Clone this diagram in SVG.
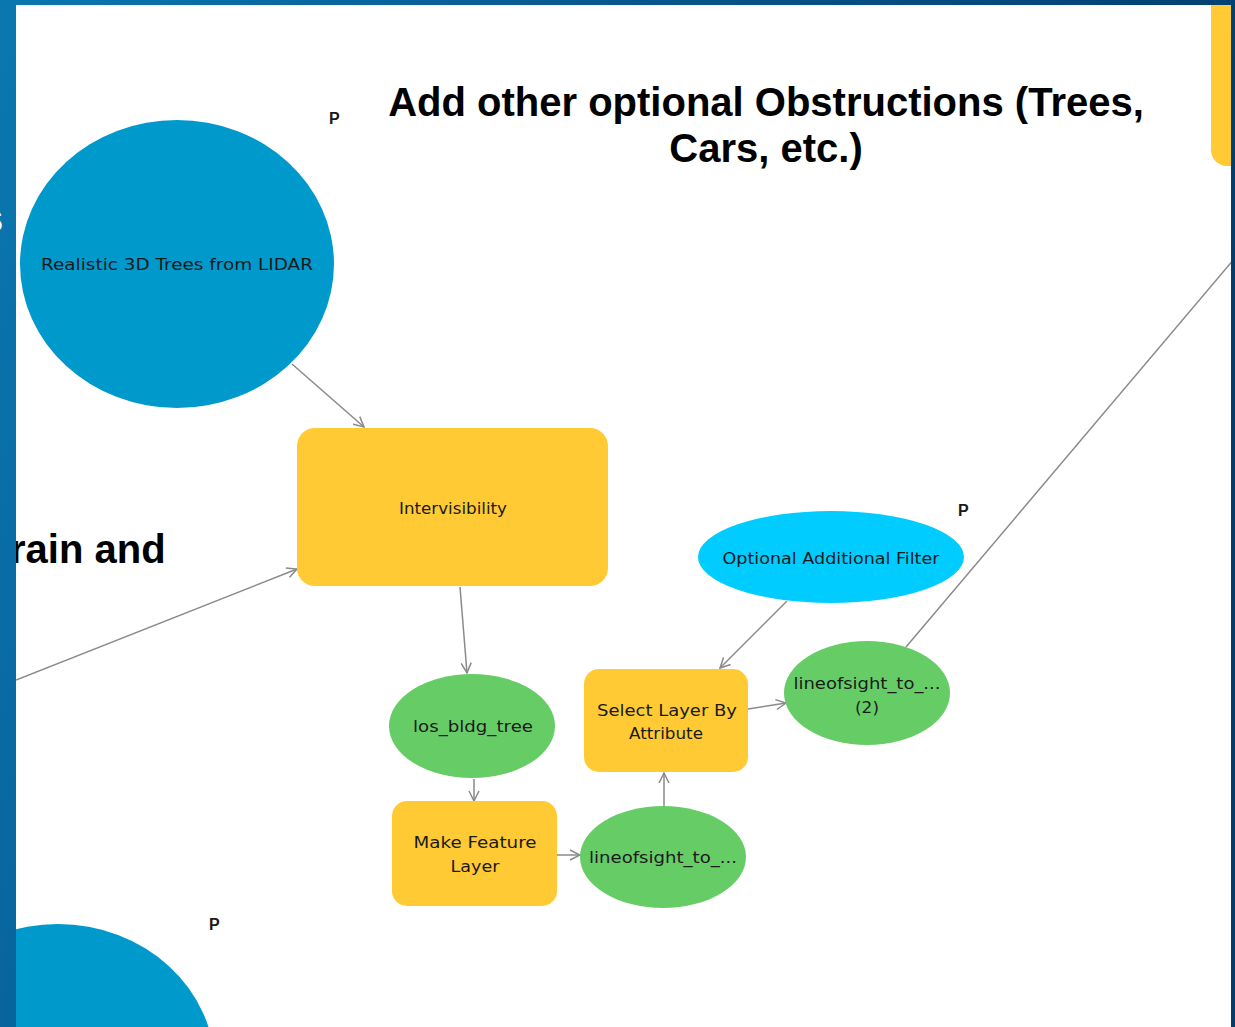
<svg xmlns="http://www.w3.org/2000/svg" width="1235" height="1027" viewBox="0 0 1235 1027">
  <defs>
    <linearGradient id="frameGrad" x1="0" y1="0" x2="1" y2="0.3">
      <stop offset="0" stop-color="#0a78b0"/>
      <stop offset="0.5" stop-color="#07558c"/>
      <stop offset="1" stop-color="#023d6e"/>
    </linearGradient>
    <clipPath id="panelClip">
      <rect x="16" y="5" width="1215" height="1022"/>
    </clipPath>
    <marker id="arrow" viewBox="0 0 12 12" refX="11" refY="6" markerWidth="12" markerHeight="12" markerUnits="userSpaceOnUse" orient="auto">
      <path d="M1,1 L11,6 L1,11" fill="none" stroke="#8a8a8a" stroke-width="1.5"/>
    </marker>
    <style>
      .tool { fill: #ffca33; }
      .data { fill: #66cc66; }
      .input { fill: #0099cc; }
      .filter { fill: #00ccff; }
      .lbl { font-family: "DejaVu Sans", Verdana, sans-serif; font-size: 16.5px; fill: #1a1a1a; text-anchor: middle; }
      .head { font-family: "Liberation Sans", Arial, sans-serif; font-weight: bold; font-size: 40px; fill: #000; }
      .p { font-family: "Liberation Sans", Arial, sans-serif; font-weight: bold; font-size: 16px; fill: #1a1a1a; }
      .conn { fill: none; stroke: #8a8a8a; stroke-width: 1.5; }
    </style>
  </defs>

  <!-- slide frame -->
  <rect x="0" y="0" width="1235" height="1027" fill="url(#frameGrad)"/>
  <text x="-19" y="232" class="head" style="fill:#ffffff">s</text>

  <g clip-path="url(#panelClip)">
    <rect x="16" y="5" width="1215" height="1022" fill="#ffffff"/>

    <!-- headings -->
    <text class="head" x="766" y="116" text-anchor="middle">Add other optional Obstructions (Trees,</text>
    <text class="head" x="766" y="162" text-anchor="middle">Cars, etc.)</text>
    <text class="head" x="10" y="563">rain and</text>

    <!-- parameter markers -->
    <text class="p" x="329" y="124">P</text>
    <text class="p" x="958" y="516">P</text>
    <text class="p" x="209" y="930">P</text>

    <!-- connectors -->
    <g id="connectors">
      <line class="conn" x1="292" y1="364" x2="364" y2="427" marker-end="url(#arrow)"/>
      <line class="conn" x1="16" y1="680" x2="297" y2="569" marker-end="url(#arrow)"/>
      <line class="conn" x1="460" y1="587" x2="467" y2="673" marker-end="url(#arrow)"/>
      <line class="conn" x1="474" y1="779" x2="474" y2="801" marker-end="url(#arrow)"/>
      <line class="conn" x1="557" y1="855" x2="580" y2="855" marker-end="url(#arrow)"/>
      <line class="conn" x1="664" y1="806" x2="664" y2="773" marker-end="url(#arrow)"/>
      <line class="conn" x1="787" y1="601" x2="720" y2="668" marker-end="url(#arrow)"/>
      <line class="conn" x1="748" y1="709" x2="786" y2="703" marker-end="url(#arrow)"/>
      <line class="conn" x1="906" y1="647" x2="1240" y2="252"/>
    </g>

    <!-- nodes -->
    <g id="node-trees-lidar">
      <ellipse class="input" cx="177" cy="264" rx="157" ry="144"/>
      <text class="lbl" x="177" y="270" textLength="272" lengthAdjust="spacingAndGlyphs">Realistic 3D Trees from LIDAR</text>
    </g>
    <g id="node-input-lower">
      <ellipse class="input" cx="58" cy="1068" rx="157" ry="144"/>
    </g>
    <g id="node-tool-top-right">
      <rect class="tool" x="1211" y="-20" width="60" height="186" rx="16"/>
    </g>
    <g id="node-intervisibility">
      <rect class="tool" x="297" y="428" width="311" height="158" rx="18"/>
      <text class="lbl" x="453" y="514" textLength="108" lengthAdjust="spacingAndGlyphs">Intervisibility</text>
    </g>
    <g id="node-optional-filter">
      <ellipse class="filter" cx="831" cy="557" rx="133" ry="46"/>
      <text class="lbl" x="831" y="564" textLength="217" lengthAdjust="spacingAndGlyphs">Optional Additional Filter</text>
    </g>
    <g id="node-los-bldg-tree">
      <ellipse class="data" cx="472" cy="726" rx="83" ry="52"/>
      <text class="lbl" x="473" y="732" textLength="120" lengthAdjust="spacingAndGlyphs">los_bldg_tree</text>
    </g>
    <g id="node-make-feature-layer">
      <rect class="tool" x="392" y="801" width="165" height="105" rx="15"/>
      <text class="lbl" x="475" y="848" textLength="123" lengthAdjust="spacingAndGlyphs">Make Feature</text>
      <text class="lbl" x="475" y="872" textLength="49" lengthAdjust="spacingAndGlyphs">Layer</text>
    </g>
    <g id="node-lineofsight">
      <ellipse class="data" cx="663" cy="857" rx="83" ry="51"/>
      <text class="lbl" x="663" y="863" textLength="148" lengthAdjust="spacingAndGlyphs">lineofsight_to_...</text>
    </g>
    <g id="node-select-by-attribute">
      <rect class="tool" x="584" y="669" width="164" height="103" rx="15"/>
      <text class="lbl" x="667" y="716" textLength="140" lengthAdjust="spacingAndGlyphs">Select Layer By</text>
      <text class="lbl" x="666" y="739" textLength="74" lengthAdjust="spacingAndGlyphs">Attribute</text>
    </g>
    <g id="node-lineofsight-2">
      <ellipse class="data" cx="867" cy="693" rx="83" ry="52"/>
      <text class="lbl" x="867" y="689" textLength="147" lengthAdjust="spacingAndGlyphs">lineofsight_to_...</text>
      <text class="lbl" x="867" y="713" textLength="24" lengthAdjust="spacingAndGlyphs">(2)</text>
    </g>
  </g>
</svg>
